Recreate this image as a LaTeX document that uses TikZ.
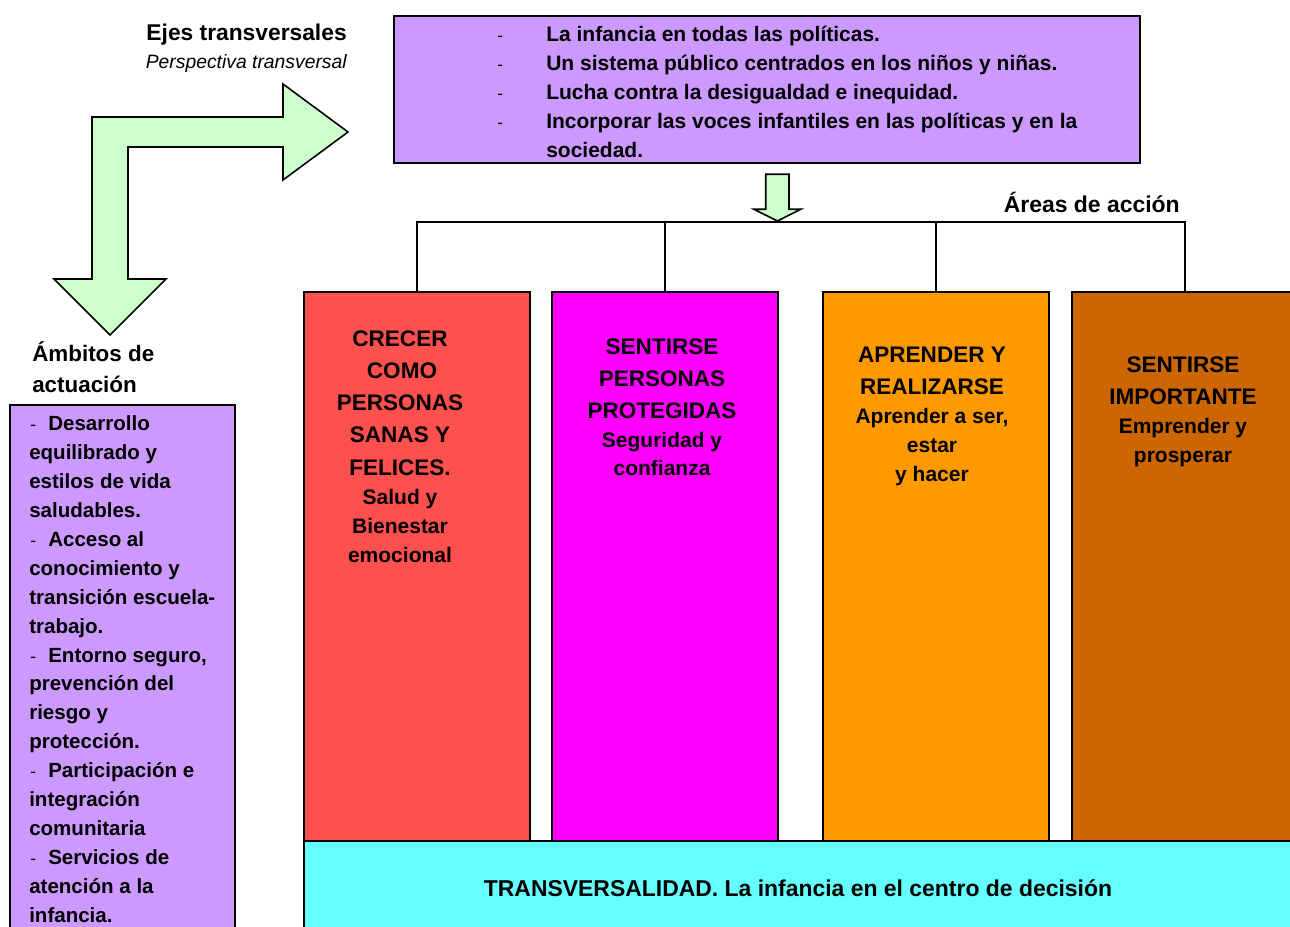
\documentclass[tikz,border=0pt]{standalone}
\usepackage{fontspec}
\setmainfont{Liberation Sans}
\newcommand{\px}{0.75pt}
\definecolor{purp}{HTML}{CC99FF}
\definecolor{grn}{HTML}{CCFFCC}
\definecolor{redb}{HTML}{FF5050}
\definecolor{magb}{HTML}{FF00FF}
\definecolor{orab}{HTML}{FF9900}
\definecolor{brob}{HTML}{CC6600}
\definecolor{cyab}{HTML}{66FFFF}
\tikzset{
  box/.style={draw=black, line width=1.5pt, rectangle, anchor=north west, inner sep=0pt, minimum width=226*\px, minimum height=549*\px},
  conn/.style={draw=black, line width=1.5pt},
  arr/.style={draw=black, line width=1.2pt, fill=grn, line join=miter},
  txt/.style={inner sep=0pt, font=\bfseries},
  tline/.style={txt, anchor=base west, font=\bfseries\fontsize{15.75pt}{21.75pt}\selectfont},
  lline/.style={txt, anchor=base west, font=\bfseries\fontsize{15.4pt}{21.7pt}\selectfont},
  big/.style={txt, anchor=base, font=\bfseries\fontsize{16.9pt}{24pt}\selectfont},
  small/.style={txt, anchor=base, font=\bfseries\fontsize{15.75pt}{21.75pt}\selectfont},
  dashmark/.style={inner sep=0pt, anchor=base west, font=\fontsize{13pt}{15pt}\selectfont}
}
\begin{document}
\begin{tikzpicture}[x=0.75pt,y=-0.75pt]
\useasboundingbox (0,0) rectangle (1290,927);
\clip (0,0) rectangle (1290,927);

% top purple box
\node[box, fill=purp, minimum width=746*\px, minimum height=147*\px] (ejes) at (393,15) {};
\foreach \t/\yy [count=\i] in {La infancia en todas las políticas./41.7, Un sistema público centrados en los niños y niñas./71, Lucha contra la desigualdad e inequidad./100, Incorporar las voces infantiles en las políticas y en la/129}{
  \node[dashmark] (ed\i) at (497,\yy) {-};
  \node[tline] (et\i) at (546,\yy) {\t};
}
\node[tline] (et5) at (546,158) {sociedad.};

% labels
\node[txt, anchor=base east, font=\bfseries\fontsize{17.1pt}{20pt}\selectfont] (ejlab) at (347,40.5) {Ejes transversales};
\node[inner sep=0pt, anchor=base east, font=\itshape\fontsize{14.5pt}{18pt}\selectfont] (perlab) at (347,69) {Perspectiva transversal};
\node[txt, anchor=base east, font=\bfseries\fontsize{17.2pt}{20pt}\selectfont] (arlab) at (1180,213) {Áreas de acción};
\node[txt, anchor=base west, font=\bfseries\fontsize{16.8pt}{20pt}\selectfont] (amb1) at (32,362) {Ámbitos de};
\node[txt, anchor=base west, font=\bfseries\fontsize{16.8pt}{20pt}\selectfont] (amb2) at (32,392.7) {actuación};

% bent arrow
\draw[arr] (92,117) -- (283,117) -- (283,84) -- (348,132) -- (283,180) -- (283,147)
  -- (128,147) -- (128,279) -- (166,279) -- (110,335) -- (54,279) -- (92,279) -- cycle;

% area boxes
\node[box, fill=redb] (red) at (303,291) {};
\node[box, fill=magb] (mag) at (551,291) {};
\node[box, fill=orab] (ora) at (822,291) {};
\node[box, fill=brob] (bro) at (1071,291) {};
\node[box, fill=cyab, minimum width=1000*\px, minimum height=110*\px] (cya) at (303,840) {};

% connectors
\coordinate (barY) at (0,222);
\draw[conn] (red.north) |- (barY -| bro.north) -- (bro.north);
\draw[conn] (mag.north) -- (mag.north |- barY);
\draw[conn] (ora.north) -- (ora.north |- barY);

% small down arrow
\coordinate (sa) at (777.5,221);
\draw[arr] ([xshift=-11.8*\px,yshift=46.7*\px]sa) -- ([xshift=11.5*\px,yshift=46.7*\px]sa)
  -- ([xshift=11.5*\px,yshift=11.7*\px]sa) -- ([xshift=23.2*\px,yshift=11.7*\px]sa)
  -- (sa) -- ([xshift=-23.5*\px,yshift=11.7*\px]sa) -- ([xshift=-11.8*\px,yshift=11.7*\px]sa) -- cycle;

% red box text
\node[big] (r1) at (400,347) {CRECER};
\node[big] (r2) at (402,379) {COMO};
\node[big] (r3) at (400,411) {PERSONAS};
\node[big] (r4) at (400,443) {SANAS Y};
\node[big] (r5) at (400,475) {FELICES.};
\node[small] (r6) at (400,504) {Salud y};
\node[small] (r7) at (400,533) {Bienestar};
\node[small] (r8) at (400,562) {emocional};

% magenta box text
\node[big] (m1) at (662,355) {SENTIRSE};
\node[big] (m2) at (662,387) {PERSONAS};
\node[big] (m3) at (662,418.5) {PROTEGIDAS};
\node[small] (m4) at (662,447.5) {Seguridad y};
\node[small] (m5) at (662,475.5) {confianza};

% orange box text
\node[big] (o1) at (932,362.5) {APRENDER Y};
\node[big] (o2) at (932,394.5) {REALIZARSE};
\node[small] (o3) at (932,424) {Aprender a ser,};
\node[small] (o4) at (932,453) {estar};
\node[small] (o5) at (932,481) {y hacer};

% brown box text
\node[big] (b1) at (1183,372.5) {SENTIRSE};
\node[big] (b2) at (1183,404.5) {IMPORTANTE};
\node[small] (b3) at (1183,434) {Emprender y};
\node[small] (b4) at (1183,462.5) {prosperar};

% cyan text
\node[txt, anchor=base, font=\bfseries\fontsize{17.2pt}{20pt}\selectfont] (cyt) at (798,896) {TRANSVERSALIDAD. La infancia en el centro de decisión};

% left purple box
\node[box, fill=purp, minimum width=225*\px, minimum height=560*\px] (amb) at (9,404) {};
\foreach \t/\d [count=\i] in {Desarrollo/1, equilibrado y/0, estilos de vida/0, saludables./0, Acceso al/1, conocimiento y/0, transición escuela-/0, trabajo./0, {Entorno seguro,}/1, prevención del/0, riesgo y/0, protección./0, Participación e/1, integración/0, comunitaria/0, Servicios de/1, atención a la/0, infancia./0}{
  \pgfmathsetmacro{\yy}{430.5+(\i-1)*28.94}
  \ifnum\d=1
    \node[dashmark] (ld\i) at (30,\yy) {-};
    \node[lline] (lt\i) at (48,\yy) {\t};
  \else
    \node[lline] (lt\i) at (29,\yy) {\t};
  \fi
}
\end{tikzpicture}
\end{document}
